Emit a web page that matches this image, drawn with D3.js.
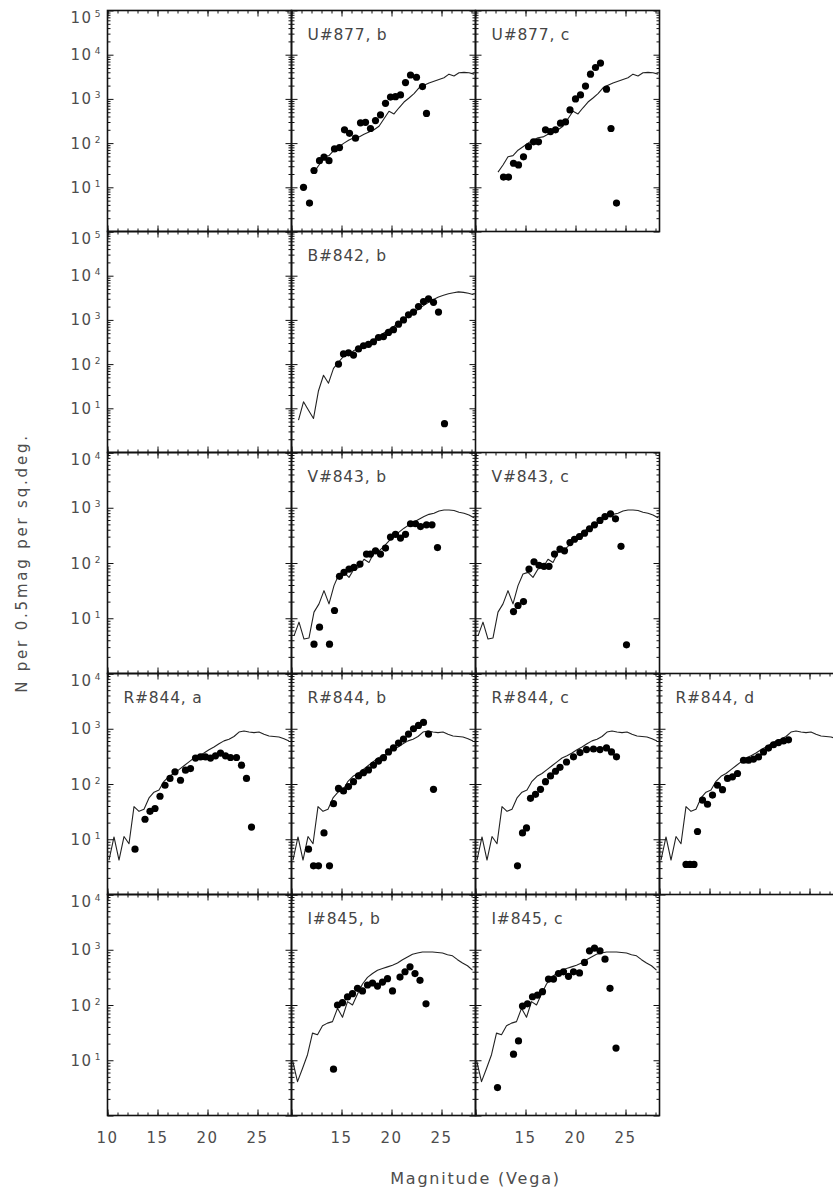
<!DOCTYPE html>
<html>
<head>
<meta charset="utf-8">
<script src="https://cdn.jsdelivr.net/npm/d3@7"></script>
<style>
  html, body { margin: 0; padding: 0; background: #fff; }
  svg { display: block; }
  text { font-family: "DejaVu Sans", "Liberation Sans", sans-serif; }
</style>
</head>
<body>
<div id="chart"></div>
<script>
// Galaxy number counts per band: observed points [magnitude, N per 0.5 mag per sq.deg.]
const u877b = [[11.2,10],[11.8,4.4],[12.25,24],[12.8,40],[13.25,48],[13.75,40],[14.3,74],[14.8,79],[15.3,200],[15.8,166],[16.4,129],[16.9,288],[17.4,295],[17.9,214],[18.4,324],[18.9,437],[19.4,794],[19.9,1100],[20.4,1120],[20.9,1230],[21.4,2340],[21.9,3470],[22.5,3090],[23.1,1900],[23.5,470]];
const u877c = [[12.8,17],[13.3,17],[13.8,35],[14.3,32],[14.8,49],[15.3,83],[15.8,107],[16.3,107],[17.0,200],[17.5,182],[18.0,200],[18.5,282],[19.0,302],[19.45,562],[20.0,1000],[20.5,1230],[21.0,1950],[21.5,3630],[22.0,5130],[22.5,6460],[23.1,1660],[23.55,214],[24.1,4.4]];
const b842b = [[14.7,100],[15.2,170],[15.7,180],[16.2,160],[16.7,220],[17.2,260],[17.7,280],[18.2,320],[18.7,400],[19.2,420],[19.7,520],[20.2,600],[20.7,800],[21.2,1000],[21.7,1300],[22.2,1500],[22.7,2000],[23.2,2600],[23.7,3000],[24.2,2500],[24.7,1500],[25.3,4.5]];
const v843b = [[12.25,3.4],[12.8,6.9],[13.8,3.4],[14.3,13.8],[14.8,57.5],[15.25,67.6],[15.75,77.6],[16.25,83.2],[16.85,95.5],[17.5,145],[17.9,145],[18.4,166],[18.9,145],[19.4,186],[19.9,295],[20.4,331],[20.9,282],[21.4,331],[21.9,513],[22.4,513],[22.9,457],[23.5,490],[24.05,490],[24.6,190]];
const v843c = [[13.8,13.2],[14.25,17],[14.8,20],[15.35,77.6],[15.85,105],[16.35,91],[16.85,87],[17.35,87],[17.9,145],[18.45,178],[18.9,166],[19.45,234],[19.9,269],[20.4,302],[20.9,347],[21.4,417],[21.9,490],[22.45,589],[22.95,692],[23.5,776],[24.0,631],[24.55,200],[25.1,3.3]];
const r844a = [[12.75,6.6],[13.75,23],[14.25,32],[14.75,36],[15.25,60],[15.75,95],[16.25,126],[16.75,166],[17.3,117],[17.8,178],[18.3,190],[18.8,295],[19.3,309],[19.8,309],[20.3,295],[20.8,324],[21.3,363],[21.8,324],[22.3,302],[22.9,302],[23.4,219],[23.9,126],[24.4,16.6]];
const r844b = [[11.7,6.6],[12.2,3.3],[12.7,3.3],[13.25,13],[13.8,3.3],[14.2,44],[14.7,83],[15.2,75],[15.7,90],[16.2,110],[16.7,140],[17.2,160],[17.7,180],[18.2,220],[18.7,260],[19.2,300],[19.7,380],[20.2,450],[20.7,550],[21.2,650],[21.7,800],[22.2,1000],[22.7,1150],[23.2,1300],[23.7,800],[24.2,80]];
const r844c = [[14.2,3.3],[14.7,13],[15.1,16],[15.5,55],[16.0,65],[16.5,80],[17.0,110],[17.5,140],[18.0,170],[18.45,200],[19.1,250],[19.8,310],[20.45,370],[21.1,420],[21.8,430],[22.45,420],[23.1,450],[23.6,380],[24.1,310]];
const r844d = [[12.65,3.5],[13.05,3.5],[13.45,3.5],[13.8,13.8],[14.3,51],[14.8,43],[15.3,63],[15.8,95],[16.3,79],[16.8,126],[17.3,135],[17.8,155],[18.4,269],[18.9,269],[19.4,282],[19.9,309],[20.4,380],[20.9,447],[21.4,513],[21.9,562],[22.4,603],[22.9,631]];
const i845b = [[14.2,6.9],[14.6,100],[15.1,110],[15.6,140],[16.1,160],[16.6,200],[17.1,180],[17.6,230],[18.1,250],[18.6,220],[19.1,260],[19.6,300],[20.1,180],[20.85,320],[21.35,400],[21.85,490],[22.35,370],[22.85,280],[23.45,105]];
const i845c = [[12.2,3.2],[13.8,12.9],[14.3,22.4],[14.7,95.5],[15.2,105],[15.7,141],[16.2,151],[16.7,174],[17.3,295],[17.8,295],[18.3,372],[18.8,398],[19.3,331],[19.8,398],[20.4,380],[20.9,589],[21.4,955],[21.9,1070],[22.45,955],[22.95,676],[23.45,200],[24.05,16.6]];

// Model number counts, one per band
const modelU = [[12.25,22],[12.75,32],[13.25,49],[13.75,52],[14.25,69],[14.75,83],[15.25,100],[15.75,117],[16.25,132],[16.75,138],[17.25,158],[17.75,178],[18.25,200],[18.75,240],[19.25,355],[19.75,525],[20.25,457],[20.75,630],[21.25,850],[21.75,1050],[22.25,1320],[22.75,1780],[23.25,2040],[23.75,2290],[24.25,2510],[24.75,2750],[25.25,3020],[25.75,3630],[26.25,3310],[26.75,3890],[27.25,3980],[27.75,3890],[28.25,3630]];
const modelB = [[10.7,5.4],[11.2,14],[11.7,9],[12.2,5.9],[12.7,25],[13.2,56],[13.7,37],[14.2,80],[14.7,110],[15.2,150],[15.7,160],[16.2,200],[16.7,230],[17.2,270],[17.7,310],[18.2,350],[18.7,420],[19.2,500],[19.7,600],[20.2,700],[20.7,850],[21.2,1000],[21.7,1200],[22.2,1450],[22.7,1750],[23.2,2100],[23.7,2500],[24.2,2900],[24.7,3300],[25.2,3600],[25.7,3900],[26.2,4100],[26.7,4300],[27.2,4200],[27.7,4000],[28.2,3700]];
const modelV = [[10.25,4.8],[10.75,8.5],[11.25,4.2],[11.75,4.4],[12.25,12.9],[12.75,18.2],[13.25,31.6],[13.75,18.2],[14.25,38.9],[14.75,63.1],[15.25,67.6],[15.75,55],[16.25,77.6],[16.75,83.2],[17.25,117],[17.75,102],[18.25,155],[18.75,166],[19.25,200],[19.75,251],[20.25,309],[20.75,363],[21.25,427],[21.75,490],[22.25,550],[22.75,617],[23.25,692],[23.75,759],[24.25,794],[24.75,871],[25.25,912],[25.75,912],[26.25,891],[26.75,832],[27.25,794],[27.75,741],[28.25,661]];
const modelR = [[10.15,4.2],[10.65,11],[11.15,4.2],[11.65,11.2],[12.15,8.3],[12.65,39],[13.15,32],[13.65,35],[14.15,56],[14.65,71],[15.15,78],[15.65,112],[16.15,138],[16.65,155],[17.15,182],[17.65,214],[18.15,251],[18.65,295],[19.15,324],[19.65,363],[20.15,417],[20.65,468],[21.15,537],[21.65,603],[22.15,646],[22.65,724],[23.15,871],[23.65,912],[24.15,871],[24.65,851],[25.15,871],[25.65,794],[26.15,741],[26.65,724],[27.15,708],[27.65,661],[28.15,603]];
const modelI = [[10.1,10],[10.6,4.1],[11.1,7.1],[11.6,12.6],[12.1,31],[12.6,29],[13.1,42],[13.6,47],[14.1,50],[14.6,87],[15.1,60],[15.6,115],[16.1,100],[16.6,158],[17.1,240],[17.6,316],[18.1,372],[18.6,427],[19.1,457],[19.6,490],[20.1,525],[20.6,575],[21.1,661],[21.6,741],[22.1,832],[22.6,871],[23.1,912],[23.6,912],[24.1,912],[24.6,891],[25.1,871],[25.6,813],[26.1,776],[26.6,661],[27.1,575],[27.6,513],[28.1,427]];

// Grid of panels (row, column); panels without a title are empty frames
const panels = [
  {row:0, col:0},
  {row:0, col:1, title:"U#877, b", pts:u877b, model:modelU},
  {row:0, col:2, title:"U#877, c", pts:u877c, model:modelU},
  {row:1, col:0},
  {row:1, col:1, title:"B#842, b", pts:b842b, model:modelB},
  {row:2, col:0},
  {row:2, col:1, title:"V#843, b", pts:v843b, model:modelV},
  {row:2, col:2, title:"V#843, c", pts:v843c, model:modelV},
  {row:3, col:0, title:"R#844, a", pts:r844a, model:modelR},
  {row:3, col:1, title:"R#844, b", pts:r844b, model:modelR},
  {row:3, col:2, title:"R#844, c", pts:r844c, model:modelR},
  {row:3, col:3, title:"R#844, d", pts:r844d, model:modelR},
  {row:4, col:0},
  {row:4, col:1, title:"I#845, b", pts:i845b, model:modelI},
  {row:4, col:2, title:"I#845, c", pts:i845c, model:modelI}
];

// Upper limit of the count axis for each row, and the decades that get labels
const rowTop = [1e5, 1e5, 1e4, 1e4, 1e4];
const yLabelExp = [[1,2,3,4,5],[1,2,3,4,5],[1,2,3,4],[1,2,3,4],[1,2,3,4]];
const magDomain = [10, 28.4];
const xMajor = [10, 15, 20, 25];
const xLabelsByCol = [[10,15,20,25],[15,20,25],[15,20,25]];

const W = 833, H = 1197;
const left0 = 107.5, top0 = 10.5, colW = 184, rowH = 221;

const svg = d3.select("#chart").append("svg")
  .attr("width", W).attr("height", H);

svg.append("defs").append("clipPath").attr("id", "panel-clip")
  .append("rect").attr("x", 0).attr("y", 0).attr("width", colW).attr("height", rowH);

const x = d3.scaleLinear().domain(magDomain).range([0, colW]);
const xMinor = d3.range(10, 28.5, 1);

function yScale(row) {
  return d3.scaleLog().domain([1, rowTop[row]]).range([rowH, 0]);
}

function minorLog(top) {
  const v = [];
  for (let e = 0; Math.pow(10, e) < top; e++)
    for (let k = 2; k <= 9; k++) v.push(k * Math.pow(10, e));
  return v;
}

const ink = "#111";
const labelInk = "#4d4d4d";

panels.forEach(p => {
  const g = svg.append("g")
    .attr("transform", `translate(${left0 + p.col * colW},${top0 + p.row * rowH})`);
  const y = yScale(p.row);
  const decades = d3.range(0, Math.log10(rowTop[p.row]) + 1).map(e => Math.pow(10, e));
  const ymin = minorLog(rowTop[p.row]);

  // tick marks on all four sides, pointing inward
  const axes = [
    [d3.axisBottom(x).tickValues(xMajor).tickSize(-6), `translate(0,${rowH})`],
    [d3.axisBottom(x).tickValues(xMinor).tickSize(-3), `translate(0,${rowH})`],
    [d3.axisTop(x).tickValues(xMajor).tickSize(-6), "translate(0,0)"],
    [d3.axisTop(x).tickValues(xMinor).tickSize(-3), "translate(0,0)"],
    [d3.axisLeft(y).tickValues(decades).tickSize(-6), "translate(0,0)"],
    [d3.axisLeft(y).tickValues(ymin).tickSize(-3), "translate(0,0)"],
    [d3.axisRight(y).tickValues(decades).tickSize(-6), `translate(${colW},0)`],
    [d3.axisRight(y).tickValues(ymin).tickSize(-3), `translate(${colW},0)`]
  ];
  axes.forEach(([ax, tr]) => {
    const a = g.append("g").attr("transform", tr).call(ax.tickFormat(""));
    a.select(".domain").remove();
    a.selectAll("line").attr("stroke", ink).attr("stroke-width", 1);
  });

  if (p.title) {
    const inner = g.append("g").attr("clip-path", "url(#panel-clip)");
    inner.append("path")
      .datum(p.model)
      .attr("fill", "none")
      .attr("stroke", "#222")
      .attr("stroke-width", 1.1)
      .attr("stroke-linejoin", "round")
      .attr("d", d3.line().x(d => x(d[0])).y(d => y(d[1])));
    inner.selectAll("circle")
      .data(p.pts)
      .join("circle")
      .attr("cx", d => x(d[0]))
      .attr("cy", d => y(d[1]))
      .attr("r", 3.6)
      .attr("fill", "#000");
    g.append("text")
      .attr("x", 16).attr("y", 29)
      .attr("font-size", 15.5)
      .attr("letter-spacing", 0.8)
      .attr("fill", "#454545")
      .text(p.title);
  }

  g.append("rect")
    .attr("x", 0).attr("y", 0).attr("width", colW).attr("height", rowH)
    .attr("fill", "none").attr("stroke", ink).attr("stroke-width", 1.6);

  // decade labels along the left edge of the grid
  if (p.col === 0) {
    yLabelExp[p.row].forEach(e => {
      const isTop = Math.pow(10, e) === rowTop[p.row];
      const ty = y(Math.pow(10, e)) + (isTop ? 7 : 0) + 5.5;
      g.append("text")
        .attr("x", -7 - 8).attr("y", ty)
        .attr("text-anchor", "end")
        .attr("font-size", 15)
        .attr("letter-spacing", 1.5)
        .attr("fill", labelInk)
        .text("10");
      g.append("text")
        .attr("x", -7).attr("y", ty - 6)
        .attr("text-anchor", "end")
        .attr("font-size", 9)
        .attr("fill", labelInk)
        .text(e);
    });
  }

  // magnitude labels under the bottom row
  if (p.row === 4 && xLabelsByCol[p.col]) {
    xLabelsByCol[p.col].forEach(v => {
      g.append("text")
        .attr("x", x(v)).attr("y", rowH + 27)
        .attr("text-anchor", "middle")
        .attr("font-size", 15)
        .attr("letter-spacing", 1.5)
        .attr("fill", labelInk)
        .text(v);
    });
  }
});

// axis titles
svg.append("text")
  .attr("transform", `translate(27,${top0 + 2.5 * rowH}) rotate(-90)`)
  .attr("text-anchor", "middle")
  .attr("font-size", 15)
  .attr("letter-spacing", 2.8)
  .attr("fill", labelInk)
  .text("N per 0.5mag per sq.deg.");

svg.append("text")
  .attr("x", left0 + 2 * colW).attr("y", 1184)
  .attr("text-anchor", "middle")
  .attr("font-size", 16)
  .attr("letter-spacing", 1.8)
  .attr("fill", labelInk)
  .text("Magnitude (Vega)");
</script>
</body>
</html>
